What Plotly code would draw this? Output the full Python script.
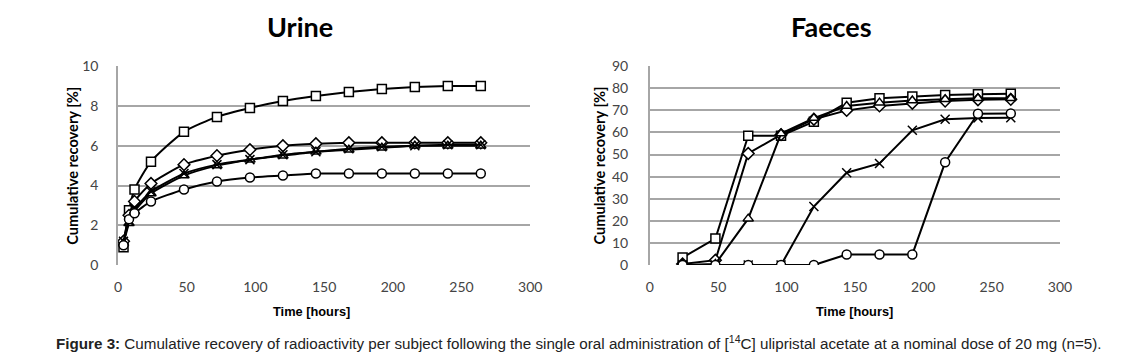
import plotly.graph_objects as go

# ---- Data ----
urine_time = [4, 8, 12, 24, 48, 72, 96, 120, 144, 168, 192, 216, 240, 264]
urine_square = [0.9, 2.75, 3.8, 5.2, 6.7, 7.45, 7.9, 8.25, 8.5, 8.7, 8.85, 8.95, 9.0, 9.0]
urine_diamond = [1.2, 2.5, 3.2, 4.1, 5.05, 5.5, 5.8, 6.0, 6.1, 6.15, 6.15, 6.15, 6.15, 6.15]
urine_triangle = [1.1, 2.1, 2.7, 3.6, 4.5, 5.0, 5.3, 5.5, 5.7, 5.8, 5.9, 6.0, 6.0, 6.0]
urine_x = [1.2, 2.2, 2.8, 3.7, 4.6, 5.05, 5.3, 5.55, 5.7, 5.85, 5.95, 6.0, 6.05, 6.05]
urine_circle = [1.0, 2.3, 2.6, 3.2, 3.8, 4.2, 4.4, 4.5, 4.6, 4.6, 4.6, 4.6, 4.6, 4.6]

faeces_time = [24, 48, 72, 96, 120, 144, 168, 192, 216, 240, 264]
faeces_square = [3.4, 12.0, 58.5, 58.5, 64.9, 73.5, 75.5, 76.3, 77.0, 77.3, 77.5]
faeces_diamond = [0.5, 2.2, 50.5, 59.0, 66.0, 70.0, 72.0, 73.2, 74.2, 74.8, 75.0]
faeces_triangle = [0.0, 0.5, 21.0, 59.5, 66.5, 72.0, 73.5, 74.5, 75.0, 75.5, 75.5]
faeces_x = [0.0, 0.0, 0.0, 0.0, 26.5, 41.8, 46.0, 61.0, 66.0, 66.6, 66.7]
faeces_circle = [0.0, 0.0, 0.0, 0.0, 0.0, 4.8, 4.8, 4.8, 46.5, 68.5, 68.6]

x_ticks = [0, 50, 100, 150, 200, 250, 300]
urine_y_ticks = [0, 2, 4, 6, 8, 10]
faeces_y_ticks = [0, 10, 20, 30, 40, 50, 60, 70, 80, 90]

W, H = 1128, 359
SX, AX = 0.99, 1.5
SY, AY = 0.958, 7.5

def px_x(v):
    return ((v - AX) / SX) / W

def px_y(v):
    return 1 - ((v - AY) / SY) / H

fig = go.Figure()

def mk(symbol, fill="white"):
    return dict(symbol=symbol, size=9, color=fill, line=dict(color="black", width=1.5))

marker_styles = {
    "square": mk("square"),
    "diamond": mk("diamond"),
    "triangle": mk("triangle-up"),
    "x": mk("x-thin", "black"),
    "circle": mk("circle"),
}

urine_series = [("square", urine_square), ("diamond", urine_diamond), ("triangle", urine_triangle),
                ("x", urine_x), ("circle", urine_circle)]
faeces_series = [("square", faeces_square), ("diamond", faeces_diamond), ("triangle", faeces_triangle),
                 ("x", faeces_x), ("circle", faeces_circle)]

for name, vals in urine_series:
    fig.add_trace(go.Scatter(x=urine_time, y=vals, mode="lines+markers",
                             line=dict(color="black", width=2, shape="spline", smoothing=0.6),
                             marker=marker_styles[name], xaxis="x", yaxis="y", showlegend=False))

for name, vals in faeces_series:
    fig.add_trace(go.Scatter(x=faeces_time, y=vals, mode="lines+markers",
                             line=dict(color="black", width=2),
                             marker=marker_styles[name], xaxis="x2", yaxis="y2", showlegend=False))

tick_font = dict(family="Lato, Open Sans, sans-serif", size=14, color="#444")
grid_col = "#a6a6a6"

common_x = dict(range=[0, 300], tickvals=x_ticks, showgrid=False, zeroline=False,
                showline=False, ticks="", tickfont=tick_font, ticklabelstandoff=12, fixedrange=True)
fig.update_layout(
    autosize=True,
    margin=dict(l=0, r=0, t=0, b=0),
    paper_bgcolor="white", plot_bgcolor="white",
    xaxis=dict(domain=[px_x(116), px_x(530)], anchor="y", **common_x),
    yaxis=dict(domain=[px_y(265), px_y(65)], anchor="x", range=[0, 10], tickvals=urine_y_ticks,
               showgrid=True, gridcolor=grid_col, gridwidth=1.5, zeroline=False,
               showline=True, linecolor=grid_col, linewidth=1.5, ticks="",
               tickfont=tick_font, ticklabelstandoff=15),
    xaxis2=dict(domain=[px_x(650), px_x(1062)], anchor="y2", **common_x),
    yaxis2=dict(domain=[px_y(265), px_y(65)], anchor="x2", range=[0, 90], tickvals=faeces_y_ticks,
                showgrid=True, gridcolor=grid_col, gridwidth=1.5, zeroline=False,
                showline=True, linecolor=grid_col, linewidth=1.5, ticks="",
                tickfont=tick_font, ticklabelstandoff=17),
)

ann = []
title_font = dict(family="Lato, Open Sans, sans-serif", size=27, color="black")
ann.append(dict(text="<b>Urine</b>", x=px_x(299), y=px_y(25), xref="paper", yref="paper",
                showarrow=False, font=title_font, xanchor="center", yanchor="middle"))
ann.append(dict(text="<b>Faeces</b>", x=px_x(833), y=px_y(25), xref="paper", yref="paper",
                showarrow=False, font=title_font, xanchor="center", yanchor="middle"))
ytitle_font = dict(family="Lato, Open Sans, sans-serif", size=14.6, color="black")
for xc in (70, 600):
    ann.append(dict(text="<b>Cumulative recovery [%]</b>", x=px_x(xc), y=px_y(165), xref="paper", yref="paper",
                    showarrow=False, font=ytitle_font, textangle=-90, xanchor="center", yanchor="middle"))
xtitle_font = dict(family="Liberation Sans, Arial, sans-serif", size=12.8, color="black")
for xc in (310, 856):
    ann.append(dict(text="<b>Time [hours]</b>", x=px_x(xc), y=px_y(312), xref="paper", yref="paper",
                    showarrow=False, font=xtitle_font, xanchor="center", yanchor="middle"))
ann.append(dict(text="<b>Figure 3:</b> Cumulative recovery of radioactivity per subject following the single oral "
                     "administration of [<sup>14</sup>C] ulipristal acetate at a nominal dose of 20 mg (n=5).",
                x=px_x(52), y=px_y(343), xref="paper", yref="paper", showarrow=False,
                font=dict(family="Liberation Sans, Arial, sans-serif", size=15.2, color="#222"),
                xanchor="left", yanchor="middle"))
fig.update_layout(annotations=ann)

post = ("document.documentElement.style.margin='0';document.documentElement.style.padding='0';"
        "document.documentElement.style.overflow='hidden';"
        "document.body.style.margin='0';document.body.style.padding='0';"
        "document.body.style.overflow='hidden';document.body.style.background='white';"
        "var gd=document.getElementById('{plot_id}');"
        "gd.style.position='fixed';gd.style.left='0';gd.style.top='0';"
        "gd.style.width='100vw';gd.style.height='100vh';"
        "Plotly.Plots.resize(gd);")
fig.write_html("out.html", config={"responsive": True, "displayModeBar": False},
               default_width="100vw", default_height="100vh", post_script=post)
